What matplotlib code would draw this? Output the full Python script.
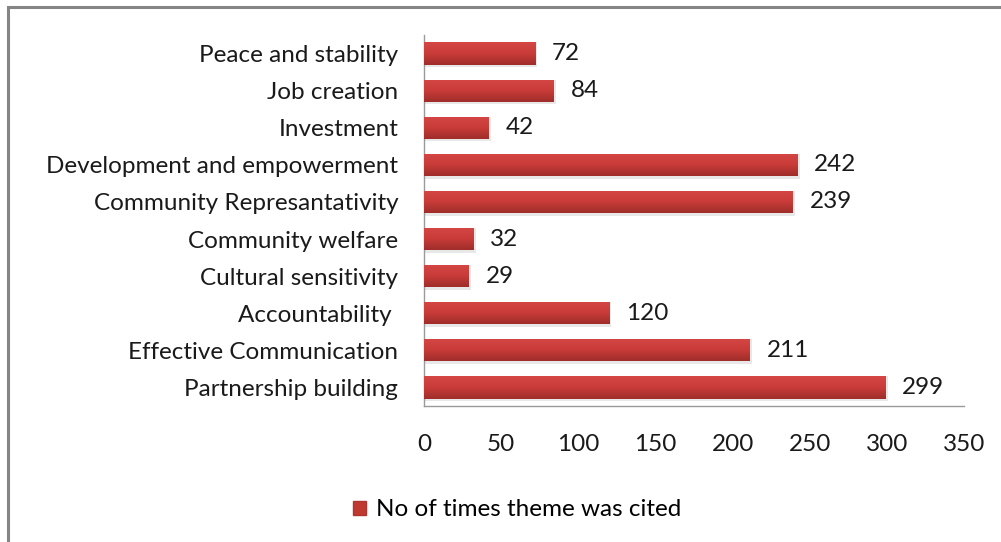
import matplotlib
matplotlib.use("Agg")
import matplotlib.pyplot as plt
import numpy as np
from matplotlib.patches import Rectangle
from matplotlib.colors import LinearSegmentedColormap

categories = ["Partnership building", "Effective Communication", "Accountability ",
              "Cultural sensitivity", "Community welfare", "Community Represantativity",
              "Development and empowerment", "Investment", "Job creation", "Peace and stability"]
values = [299, 211, 120, 29, 32, 239, 242, 42, 84, 72]
xticks = [0, 50, 100, 150, 200, 250, 300, 350]
legend_label = "No of times theme was cited"

plt.rcParams['font.family'] = ['Lato', 'DejaVu Sans']
FS = 17.5

fig = plt.figure(figsize=(10.01, 5.42), dpi=100)
# outer frame (top/left visible)
fig.add_artist(Rectangle((8/1001, -0.05), 1.2, (542-7)/542 + 0.05, transform=fig.transFigure,
                         fill=False, edgecolor='#858585', linewidth=2.2))

ax = fig.add_axes([424/1001, 1-406/542, (964-424)/1001, (406-35)/542])
y = np.arange(len(categories))
bars = ax.barh(y, values, height=0.6, color='#c0392f', zorder=2)

# gradient fill on bars (lighter at top, darker at bottom)
grad = np.linspace(0, 1, 64).reshape(-1, 1)
cmap = LinearSegmentedColormap.from_list('g', ['#d44744', '#c93c39', '#9f2d2a'])
for b in bars:
    x0, y0 = b.get_x(), b.get_y()
    w, h = b.get_width(), b.get_height()
    # soft shadow
    ax.add_patch(Rectangle((x0, y0 - 0.07), w + 1.5, h + 0.07, facecolor='#dadada',
                           edgecolor='none', zorder=1, alpha=0.6))
    im = ax.imshow(grad, extent=(x0, x0 + w, y0, y0 + h), origin='lower', cmap=cmap.reversed(),
                   aspect='auto', zorder=3, interpolation='bilinear')
    im.set_clip_path(b)
    ax.text(x0 + w + 11, y0 + h / 2, str(int(w)), va='center', ha='left',
            fontsize=FS, color='#1a1a1a', zorder=4)

ax.set_xlim(0, 350)
ax.set_ylim(-0.5, len(categories) - 0.5)
ax.set_yticks(y)
ax.set_yticklabels(categories, fontsize=FS, color='#1a1a1a')
ax.set_xticks(xticks)
ax.set_xticklabels([str(t) for t in xticks], fontsize=FS, color='#1a1a1a')
ax.tick_params(axis='both', length=0)
ax.tick_params(axis='y', pad=18.5)
ax.tick_params(axis='x', pad=20)
for s in ['top', 'right']:
    ax.spines[s].set_visible(False)
for s in ['left', 'bottom']:
    ax.spines[s].set_color('#9a9a9a')
    ax.spines[s].set_linewidth(1.0)
ax.set_aspect('auto')

handle = Rectangle((0, 0), 1, 1, facecolor='#c0392f', edgecolor='#b03430')
fig.legend([handle], [legend_label], loc='center', bbox_to_anchor=(517/1001, 1-510/542),
           frameon=False, fontsize=FS, handlelength=0.55, handleheight=0.55, handletextpad=0.4)

fig.savefig("out.png", dpi=100, facecolor='white')
